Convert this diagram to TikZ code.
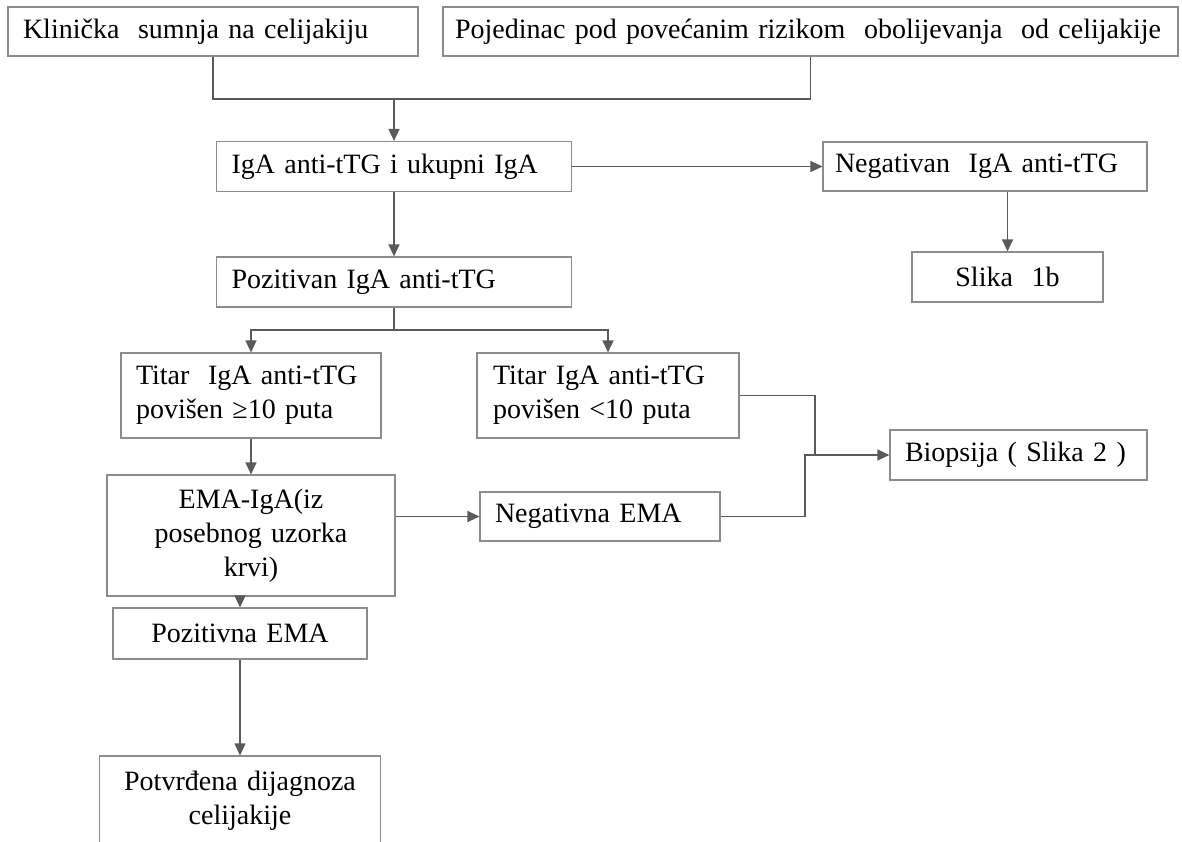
\documentclass[tikz,border=0pt]{standalone}
\usepackage{fontspec}
\setmainfont{Liberation Serif}
\usetikzlibrary{arrows.meta}
\definecolor{boxgray}{HTML}{8C8C8C}
\definecolor{linegray}{HTML}{5A5A5A}
\tikzset{
  box/.style={draw=boxgray, line width=1.2pt, font=\fontsize{28}{34}\selectfont, inner ysep=0pt, text=black},
  lbox/.style={box, align=left},
  cbox/.style={box, align=center},
  conn/.style={draw=linegray, line width=1.3pt},
  arr/.style={conn, -{Triangle[length=12pt,width=11pt]}, color=linegray},
}
\begin{document}
\begin{tikzpicture}[x=1pt,y=-1pt]
\useasboundingbox (0,0) rectangle (1182,841);
\fill[white] (0,0) rectangle (1182,841);
% boxes
\node[lbox, minimum width=410pt, minimum height=49pt, text width=380pt, inner xsep=15pt] (k1) at (213,31.5) {Klinička\ \ sumnja na celijakiju};
\node[lbox, minimum width=735pt, minimum height=49pt, text width=711pt, inner xsep=12pt] (k2) at (810.5,31.5) {Pojedinac pod povećanim rizikom\ \ obolijevanja\ \ od celijakije};
\node[lbox, minimum width=355pt, minimum height=50pt, text width=325pt, inner xsep=15pt] (b3) at (394,166.5) {IgA anti-tTG i ukupni IgA};
\node[lbox, minimum width=324pt, minimum height=49pt, text width=300pt, inner xsep=12pt] (neg) at (985,166.5) {Negativan\ \ IgA anti-tTG};
\node[cbox, minimum width=191pt, minimum height=50pt, text width=171pt, inner xsep=10pt] (s1b) at (1007.5,277) {Slika\ \ 1b};
\node[lbox, minimum width=355pt, minimum height=50pt, text width=325pt, inner xsep=15pt] (poz) at (394,282) {Pozitivan IgA anti-tTG};
\node[lbox, minimum width=260pt, minimum height=85pt, text width=230pt, inner xsep=15pt] (ta) at (251,395.5) {Titar\ \ IgA anti-tTG\\povišen ≥10 puta};
\node[lbox, minimum width=262pt, minimum height=85pt, text width=230pt, inner xsep=16pt] (tb) at (608,395.5) {Titar IgA anti-tTG\\povišen <10 puta};
\node[cbox, minimum width=288pt, minimum height=121pt, text width=268pt, inner xsep=10pt] (ema) at (251,535.5) {EMA-IgA(iz\\posebnog uzorka\\krvi)};
\node[lbox, minimum width=240pt, minimum height=49pt, text width=210pt, inner xsep=15pt] (nema) at (600,516.5) {Negativna EMA};
\node[lbox, minimum width=257pt, minimum height=50pt, text width=227pt, inner xsep=15pt] (bio) at (1018.5,455) {Biopsija ( Slika 2 )};
\node[cbox, minimum width=254pt, minimum height=51pt, text width=234pt, inner xsep=10pt] (pema) at (240,633.5) {Pozitivna EMA};
\node[cbox, minimum width=281pt, minimum height=89pt, text width=261pt, inner xsep=10pt] (potv) at (240,800.5) {Potvrđena dijagnoza\\celijakije};
% junction coordinates
\coordinate (j1) at (394,99);
\coordinate (j2) at (394,330);
\coordinate (j3) at (805,455);
\coordinate (j4) at (815,455);
% connectors
\draw[conn] (k1.south) |- (j1) -| (k2.south);
\draw[arr] (j1) -- (b3.north);
\draw[arr] (b3.east) -- (neg.west);
\draw[arr] (s1b.north |- neg.south) -- (s1b.north);
\draw[arr] (b3.south) -- (poz.north);
\draw[conn] (poz.south) -- (j2);
\draw[arr] (j2) -| (ta.north);
\draw[arr] (j2) -| (tb.north);
\draw[arr] (ta.south) -- (ema.north);
\draw[arr] (ema.east |- nema.west) -- (nema.west);
\draw[conn] (tb.east) -| (j4);
\draw[arr] (nema.east) -| (j3) -- (bio.west);
\draw[arr] (pema.north |- ema.south) -- (pema.north);
\draw[arr] (pema.south) -- (potv.north);
\end{tikzpicture}
\end{document}
